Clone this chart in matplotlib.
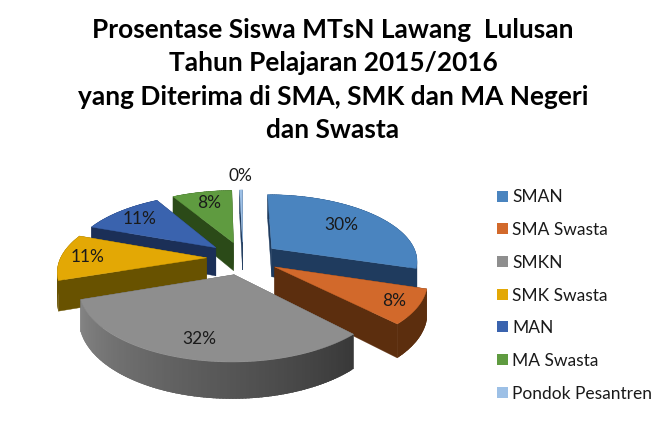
import numpy as np
import matplotlib
matplotlib.use('Agg')
import matplotlib.pyplot as plt
from matplotlib.patches import Polygon, Rectangle

plt.rcParams['font.family'] = ['Lato', 'DejaVu Sans']

title_text = ("Prosentase Siswa MTsN Lawang  Lulusan\n"
              "Tahun Pelajaran 2015/2016\n"
              "yang Diterima di SMA, SMK dan MA Negeri\n"
              "dan Swasta")
categories = ['SMAN', 'SMA Swasta', 'SMKN', 'SMK Swasta', 'MAN', 'MA Swasta', 'Pondok Pesantren']
values = [30, 8, 32, 11, 11, 8, 0.4]

top_colors = ['#4a84bf', '#d2692b', '#8e8e8e', '#e3a805', '#3a63ae', '#5f9b40', '#9dc0e6']
side_colors = ['#1f3b5e', '#5c2e0e', '#5a5a5a', '#685200', '#1b2f57', '#2b4a18', '#1f3b5e']
label_r = [0.66, 0.85, 0.79, 0.82, 0.78, 0.75, 1.32]

# projected pie, pixels
CX, CY = 243, 258
RX, RY = 146, 66
PERSP = 0.17
DEPTH = 29
EXPLODE = 0.25


def project(u, v, drop=0.0):
    s = 1 / (1 - PERSP * v)
    return CX + RX * u * s, CY + RY * v * s + drop * DEPTH * s


def slice_xy(a, r=1.0, mid=0.0, drop=0.0):
    # a is degrees clockwise from the top
    u = r * np.sin(np.radians(a)) + EXPLODE * np.sin(np.radians(mid))
    v = -r * np.cos(np.radians(a)) - EXPLODE * np.cos(np.radians(mid))
    return project(u, v, drop)


fig = plt.figure(figsize=(6.66, 4.32), dpi=100)
ax = fig.add_axes([0, 0, 1, 1])
ax.set_xlim(0, 666)
ax.set_ylim(432, 0)
ax.axis('off')

edges = np.cumsum([0] + values) / sum(values) * 360
mids = (edges[:-1] + edges[1:]) / 2
order = np.argsort(-np.cos(np.radians(mids)))

for i in order:
    a0, a1, mid = edges[i], edges[i + 1], mids[i]
    arc = np.linspace(a0, a1, max(int(a1 - a0), 2) + 1)
    apex = slice_xy(0, 0, mid)
    apex_low = slice_xy(0, 0, mid, 1)

    # cut faces, far one first
    faces = []
    for a in (a0, a1):
        faces.append([apex, slice_xy(a, 1, mid), slice_xy(a, 1, mid, 1), apex_low])
    faces.sort(key=lambda f: np.mean([p[1] for p in f]))
    for f in faces:
        ax.add_patch(Polygon(f, closed=True, fc=side_colors[i], ec=side_colors[i], lw=0.3))

    # outer wall, each piece runs under the next so the gradient has no seams
    for b0, b1 in zip(arc[:-1], arc[1:]):
        col = side_colors[i]
        if categories[i] == 'SMKN':
            g = np.interp((b0 + b1) / 2, [a0, a1], [0.22, 0.52])
            col = (g, g, g)
        b2 = min(b1 + 1.5, a1)
        ax.add_patch(Polygon([slice_xy(b0, 1, mid), slice_xy(b2, 1, mid),
                              slice_xy(b2, 1, mid, 1), slice_xy(b0, 1, mid, 1)],
                             closed=True, fc=col, ec='none'))

    top = [apex] + [slice_xy(a, 1, mid) for a in arc]
    ax.add_patch(Polygon(top, closed=True, fc=top_colors[i], ec=top_colors[i], lw=0.3))

for i in range(len(values)):
    x, y = slice_xy(mids[i], label_r[i], mids[i])
    ax.text(x, y, f'{values[i]:.0f}%', ha='center', va='center', fontsize=12.5, color='#1a1a1a')

# legend
for i, name in enumerate(categories):
    y = 196 + i * 32.7
    ax.add_patch(Rectangle((497, y - 5.5), 11, 11, fc=top_colors[i], ec='none'))
    ax.text(512, y + 1.5, name, ha='left', va='center', fontsize=12.5, color='#1a1a1a')

ax.text(333, 80, title_text, ha='center', va='center', fontsize=18.9, fontweight='bold',
        color='black', linespacing=1.47)

fig.savefig('out.png', dpi=100)
